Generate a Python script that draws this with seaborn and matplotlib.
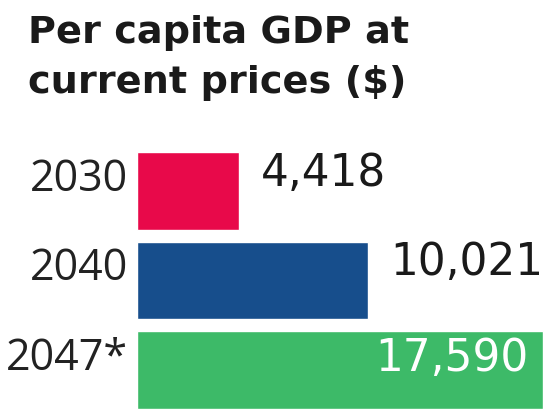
import numpy as np
import pandas as pd
import matplotlib.pyplot as plt
import seaborn as sns

# per capita GDP at current prices ($)
years = ['2030', '2040', '2047*']
gdp = [4418, 10021, 17590]
colors = ['#E8094A', '#174E8C', '#3DBA68']

sns.set_style('white')
plt.rcParams['font.family'] = ['DejaVu Sans']

df = pd.DataFrame({'year': years, 'gdp': gdp})

fig = plt.figure(figsize=(5.48, 4.14), dpi=100)
ax = fig.add_axes([137/548, 0, 411/548, 1-147.25/414])
sns.barplot(data=df, x='gdp', y='year', hue='year', palette=colors,
            orient='h', width=0.87, legend=False, ax=ax, saturation=1)
ax.set_xlim(0, 411/(102/4418))
ax.set_ylim(2 + 43/89.5, -0.5)
ax.axis('off')

for i, (yr, v) in enumerate(zip(years, gdp)):
    ax.annotate(yr, (0, i), xytext=(-9, 1), textcoords='offset pixels',
                ha='right', va='baseline', fontsize=31, color='#222222',
                family=['Open Sans', 'DejaVu Sans'])
    if i < 2:
        ax.annotate('{:,}'.format(v), (v, i), xytext=(22, 6), textcoords='offset pixels',
                    ha='left', va='baseline', fontsize=31.5, color='#1a1a1a')
    else:
        ax.annotate('{:,}'.format(v), (v, i), xytext=(-15, 0), textcoords='offset pixels',
                    ha='right', va='baseline', fontsize=31.5, color='white')

fig.text(28/548, 1-43/414, 'Per capita GDP at', fontsize=27.5, fontweight='bold',
         color='#1a1a1a', va='baseline')
fig.text(28/548, 1-93/414, 'current prices ($)', fontsize=27.5, fontweight='bold',
         color='#1a1a1a', va='baseline')

fig.savefig('out.png', dpi=100)
